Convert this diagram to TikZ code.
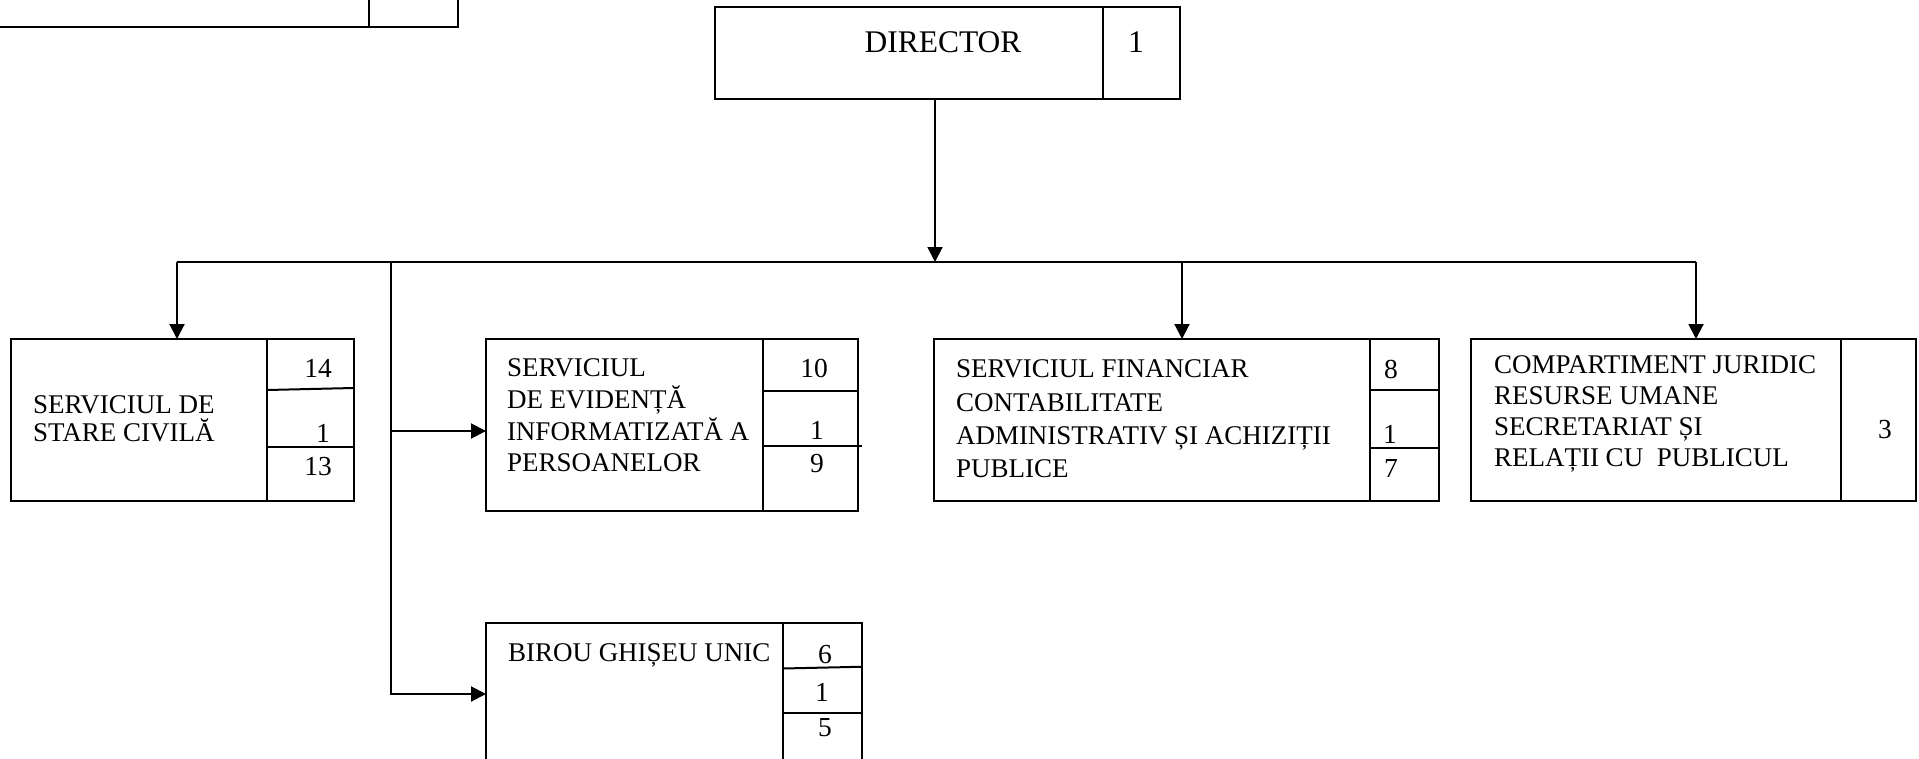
\documentclass[tikz,border=0pt]{standalone}
\usepackage{fontspec}
\setmainfont{Liberation Serif}
\usetikzlibrary{arrows.meta}
\tikzset{
  caseta/.style={draw, inner sep=0pt, outer sep=0pt, anchor=north west}, % chenar
  eticheta/.style={align=left, inner sep=0pt, anchor=west}, % text in caseta
  numar/.style={inner sep=0pt, font=\fontsize{11}{13}\selectfont} % numar posturi
}
\newcommand{\corp}[1]{\fontsize{10.8}{#1}\selectfont}

\begin{document}
\begin{tikzpicture}[
x=0.4pt, y=-0.4pt, line width=0.8pt,
>={Triangle[length=6pt,width=6pt]} % varfuri de sageata
]
\useasboundingbox (0,0) rectangle (1919,759);
\clip (0,0) rectangle (1919,759);

%Caseta taiata (sus stanga)
\node[caseta, anchor=south east, minimum width=200pt, minimum height=24pt] (sus) at (458,27) {};
\draw ([xshift=-35.6pt]sus.south east) -- ([xshift=-35.6pt]sus.north east);

%Director
\node[caseta, minimum width=155.2pt, minimum height=36.8pt] (dir) at (715,7) {};
\node[caseta, minimum width=30.8pt, minimum height=36.8pt] (dir-nr) at (dir.north east) {};
\node[inner sep=0pt, font=\fontsize{12.6}{15}\selectfont] (dir-t) at (943,42) {DIRECTOR};
\node[numar, font=\fontsize{12.6}{15}\selectfont] (dir-n) at (1136,42) {1};

%Serviciul de stare civila
\node[caseta, minimum width=102.4pt, minimum height=64.8pt] (sc) at (11,339) {};
\node[caseta, minimum width=34.8pt, minimum height=64.8pt] (sc-nr) at (sc.north east) {};
\node[eticheta, font=\corp{11.2pt}] (sc-t) at (32,419) {SERVICIUL DE\\STARE CIVILĂ};
\node[numar] (sc-n1) at (318,368) {14};
\node[numar] (sc-n2) at (323,433) {1};
\node[numar] (sc-n3) at (318,467) {13};
\draw ([yshift=-20.4pt]sc-nr.north west) -- ([yshift=-19.6pt]sc-nr.north east);
\draw ([yshift=-43.2pt]sc-nr.north west) -- ([yshift=-43.2pt]sc-nr.north east);

%Serviciul de evidenta
\node[caseta, minimum width=110.8pt, minimum height=68.8pt] (ev) at (486,339) {};
\node[caseta, minimum width=38pt, minimum height=68.8pt] (ev-nr) at (ev.north east) {};
\node[eticheta, font=\corp{12.7pt}] (ev-t) at (506,415.5)
  {SERVICIUL\\DE EVIDENȚĂ\\INFORMATIZATĂ A\\PERSOANELOR};
\node[numar] (ev-n1) at (814,368) {10};
\node[numar] (ev-n2) at (817,430) {1};
\node[numar] (ev-n3) at (817,464) {9};
\draw ([yshift=-20.8pt]ev-nr.north west) -- ([yshift=-20.8pt]ev-nr.north east);
\draw ([yshift=-42.8pt]ev-nr.north west) -- ([xshift=1.6pt,yshift=-42.8pt]ev-nr.north east);

%Serviciul financiar
\node[caseta, minimum width=174.4pt, minimum height=64.8pt] (fin) at (934,339) {};
\node[caseta, minimum width=27.6pt, minimum height=64.8pt] (fin-nr) at (fin.north east) {};
\node[eticheta, font=\corp{13.3pt}] (fin-t) at (955,419)
  {SERVICIUL FINANCIAR\\CONTABILITATE\\ADMINISTRATIV ȘI ACHIZIȚII\\PUBLICE};
\node[numar] (fin-n1) at (1391,369) {8};
\node[numar] (fin-n2) at (1390,434) {1};
\node[numar] (fin-n3) at (1391,468) {7};
\draw ([yshift=-20.4pt]fin-nr.north west) -- ([yshift=-20.4pt]fin-nr.north east);
\draw ([yshift=-43.4pt]fin-nr.north west) -- ([yshift=-43.4pt]fin-nr.north east);

%Compartiment juridic
\node[caseta, minimum width=148pt, minimum height=64.8pt] (jur) at (1471,339) {};
\node[caseta, minimum width=30pt, minimum height=64.8pt] (jur-nr) at (jur.north east) {};
\node[eticheta, font=\corp{12.4pt}] (jur-t) at (1493,413.5)
  {COMPARTIMENT JURIDIC\\RESURSE UMANE\\SECRETARIAT ȘI\\RELAȚII CU~ PUBLICUL};
\node[numar] (jur-n) at (1885,430) {3};

%Birou ghiseu unic
\node[caseta, minimum width=118.8pt, minimum height=56.8pt] (gu) at (486,623) {};
\node[caseta, minimum width=31.6pt, minimum height=56.8pt] (gu-nr) at (gu.north east) {};
\node[eticheta, font=\corp{12.4pt}] (gu-t) at (507,655) {BIROU GHIȘEU UNIC};
\node[numar] (gu-n1) at (825,655) {6};
\node[numar] (gu-n2) at (822,692) {1};
\node[numar] (gu-n3) at (825,728) {5};
\draw ([yshift=-18.2pt]gu-nr.north west) -- ([yshift=-17.5pt]gu-nr.north east);
\draw ([yshift=-36pt]gu-nr.north west) -- ([yshift=-36pt]gu-nr.north east);

%Conexiuni
\coordinate (bus) at (935,262);
\coordinate (bus-st) at (177,262);
\coordinate (bus-dr) at (1696,262);
\coordinate (ram) at (391,262);
\coordinate (b-fin) at (1182,262);
\coordinate (ev-in) at ([yshift=-2.4pt]ev.west);

\draw (bus-st) -- (bus-dr);
\draw[->] (bus |- dir.south) -- (bus);
\draw[->] (bus-st) -- (bus-st |- sc.north);
\draw[->] (b-fin) -- (b-fin |- fin.north);
\draw[->] (bus-dr) -- (bus-dr |- jur.north);
\draw[->] (ram) |- (gu.west);
\draw[->] (ram |- ev-in) -- (ev-in);

\end{tikzpicture}
\end{document}
